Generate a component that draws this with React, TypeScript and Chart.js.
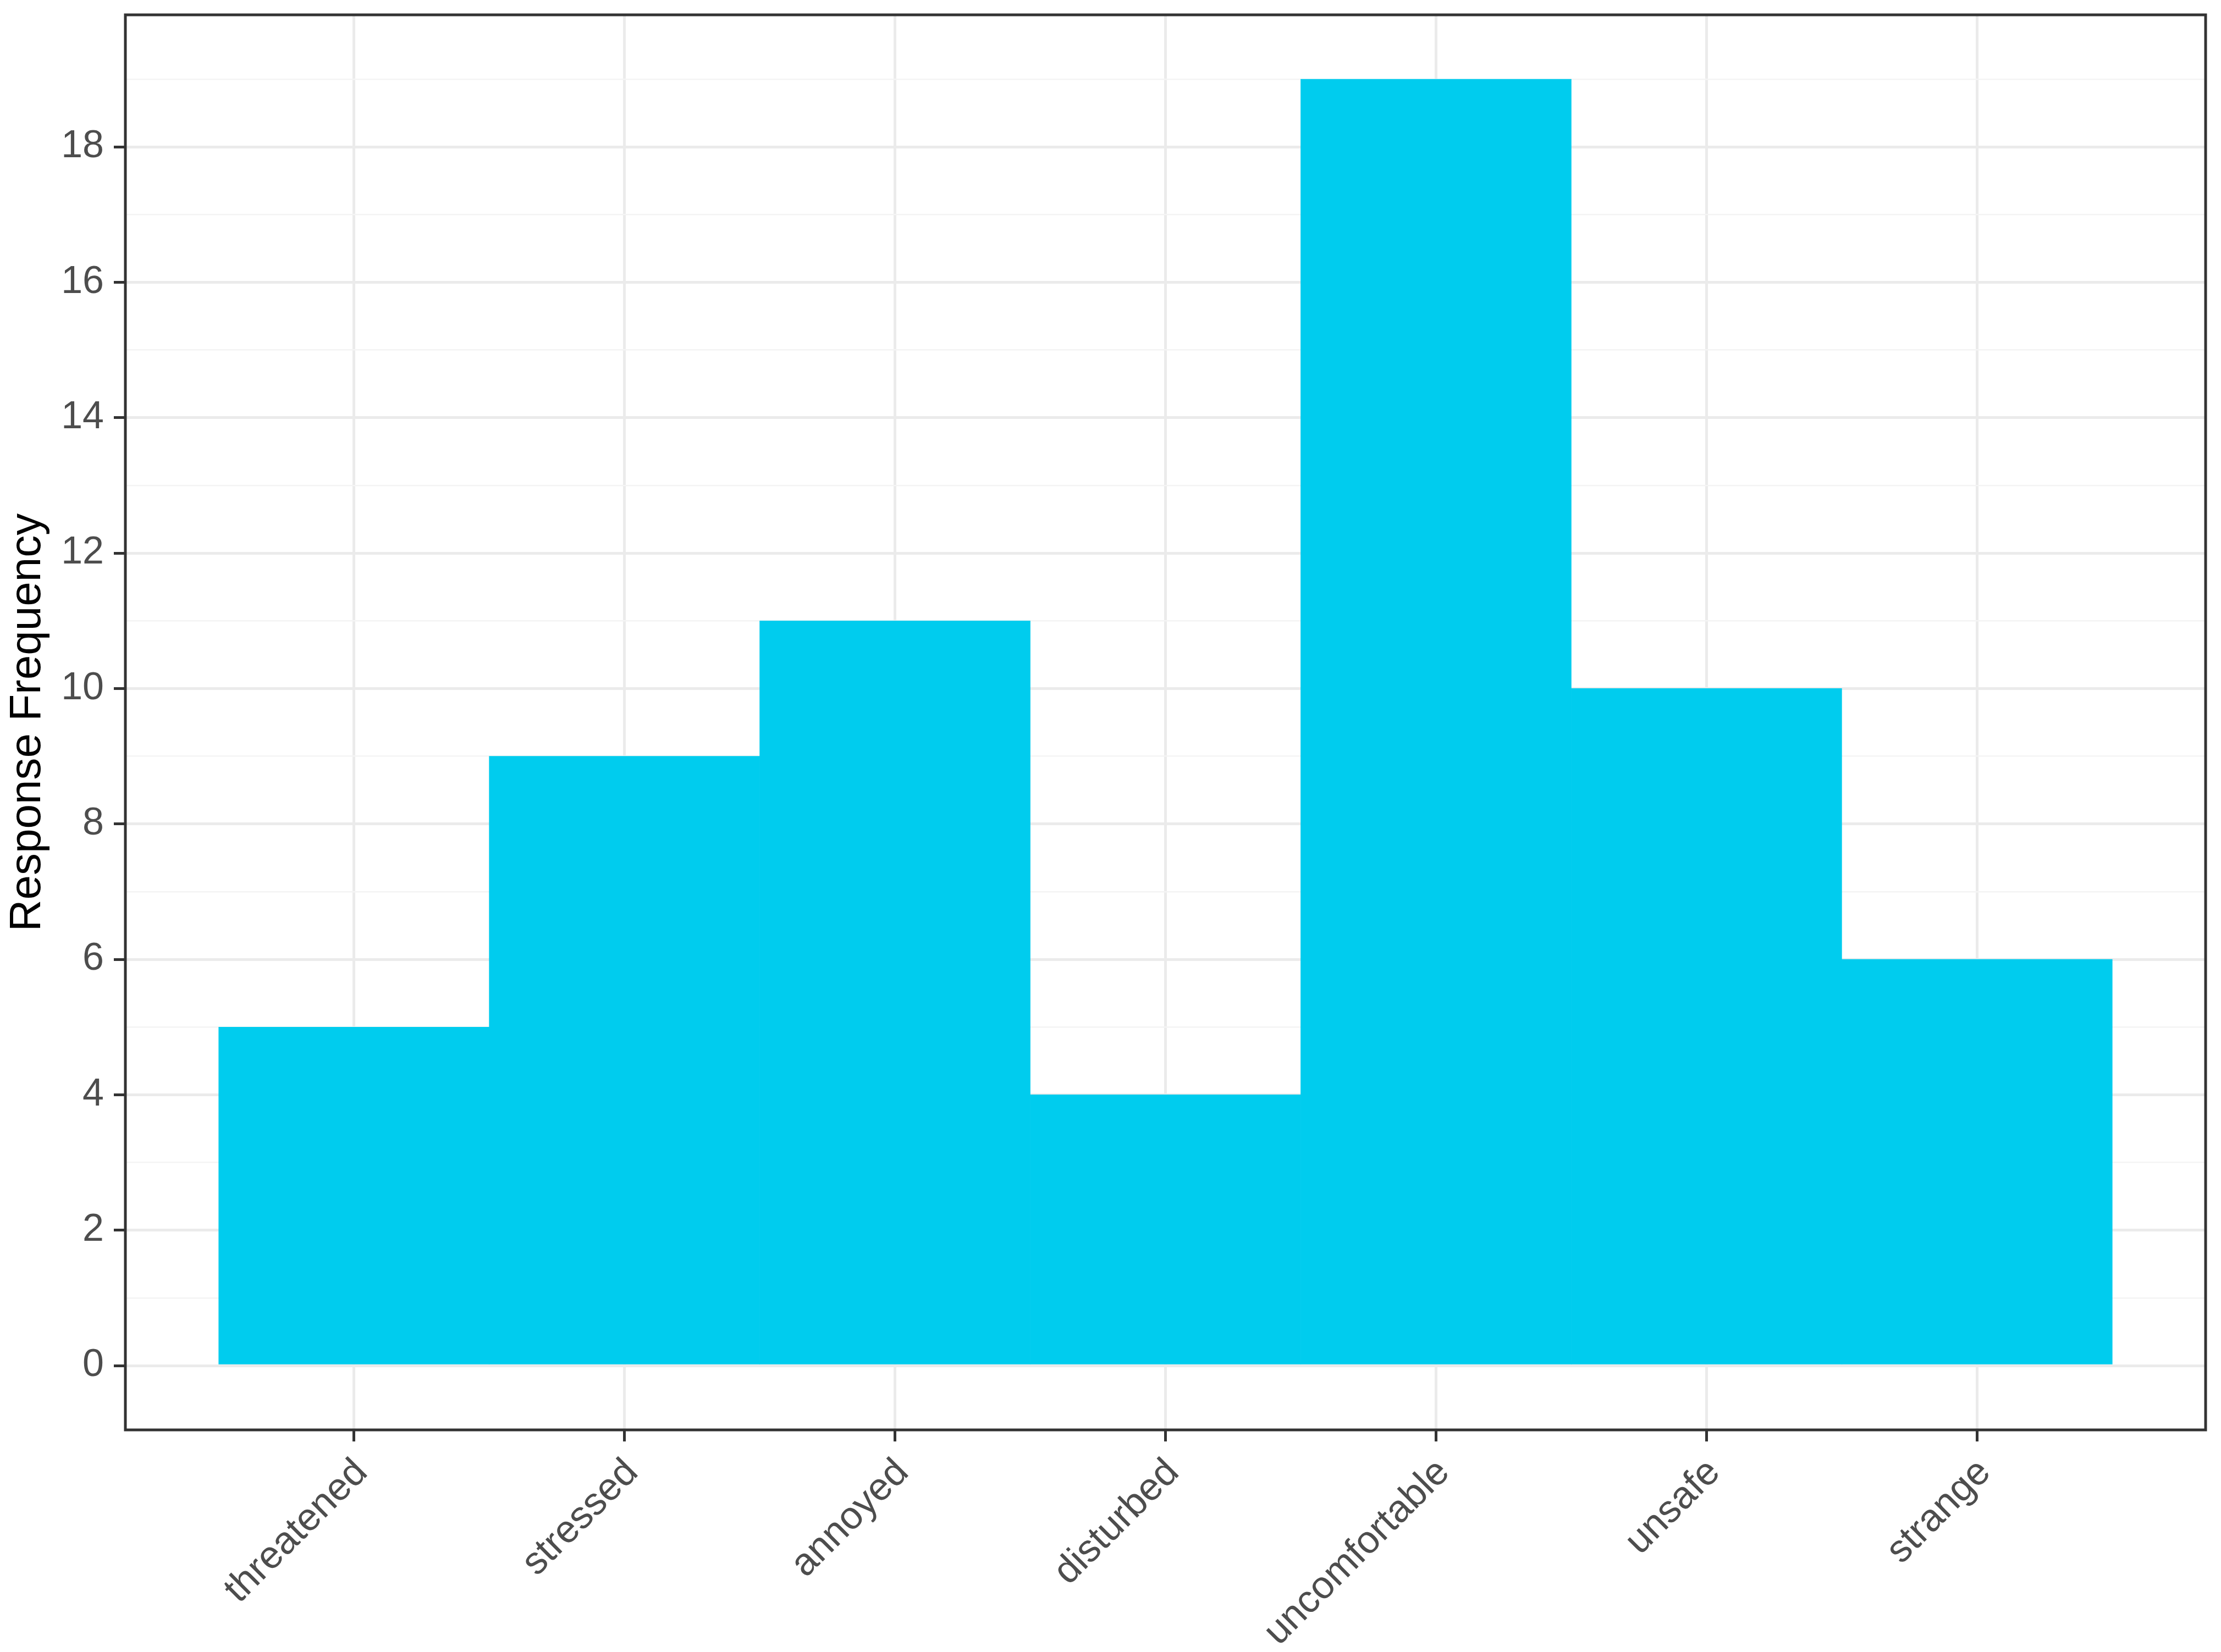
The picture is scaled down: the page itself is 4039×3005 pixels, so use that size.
import React, { useEffect, useRef } from "react";
import { Chart, registerables } from "chart.js";

Chart.register(...registerables);

const categories = ["threatened", "stressed", "annoyed", "disturbed", "uncomfortable", "unsafe", "strange"];
const frequencies = [5, 9, 11, 4, 19, 10, 6];
const categoryPositions = [1, 2, 3, 4, 5, 6, 7];
const yMajorTicks = [0, 2, 4, 6, 8, 10, 12, 14, 16, 18];
const yMinorTicks = [1, 3, 5, 7, 9, 11, 13, 15, 17, 19];
const yAxisTitle = "Response Frequency";

const FONT = "'Liberation Sans', Arial, Helvetica, sans-serif";

export default function App() {
  const ref = useRef<HTMLCanvasElement>(null);

  useEffect(() => {
    const isMajor = (v: number) => yMajorTicks.includes(v);
    const panelBorder = {
      id: "panelBorder",
      afterDatasetsDraw(chart: any) {
        const { ctx, chartArea } = chart;
        const { left, top, right, bottom } = chartArea;
        ctx.save();
        ctx.strokeStyle = "#333333";
        ctx.lineWidth = 5;
        ctx.strokeRect(left, top, right - left, bottom - top);
        ctx.restore();
      },
    };

    const chart = new Chart(ref.current as HTMLCanvasElement, {
      type: "bar",
      data: {
        datasets: [
          {
            data: categoryPositions.map((x, i) => ({ x, y: frequencies[i] })),
            backgroundColor: "#00CCEE",
            borderWidth: 0,
            barPercentage: 1,
            categoryPercentage: 1,
          },
        ],
      },
      options: {
        responsive: false,
        animation: false,
        devicePixelRatio: 1,
        layout: { padding: { left: 0, top: 27, right: 28, bottom: 0 } },
        plugins: { legend: { display: false }, tooltip: { enabled: false } },
        scales: {
          x: {
            type: "linear",
            min: 0.155,
            max: 7.845,
            offset: false,
            afterBuildTicks: (s: any) => {
              s.ticks = categoryPositions.map((v) => ({ value: v }));
            },
            afterFit: (s: any) => {
              s.height = 404;
              s.paddingLeft = 0;
              s.paddingRight = 0;
            },
            border: { display: false },
            grid: {
              offset: false,
              color: "#ebebeb",
              lineWidth: 5,
              tickLength: 21,
              tickColor: "#333333",
              tickWidth: 5,
            },
            ticks: {
              autoSkip: false,
              minRotation: 45,
              maxRotation: 45,
              padding: 16,
              labelOffset: 14,
              color: "#4d4d4d",
              font: { family: FONT, size: 70 },
              callback: (v: any) => categories[Number(v) - 1] ?? "",
            },
          },
          y: {
            type: "linear",
            min: -0.95,
            max: 19.95,
            afterBuildTicks: (s: any) => {
              s.ticks = [...yMajorTicks, ...yMinorTicks]
                .sort((a, b) => a - b)
                .map((v) => ({ value: v }));
            },
            afterFit: (s: any) => {
              s.width = 228;
              s.paddingTop = 0;
              s.paddingBottom = 0;
            },
            border: { display: false },
            grid: {
              color: (c: any) => (isMajor(c.tick?.value) ? "#ebebeb" : "#f4f4f4"),
              lineWidth: (c: any) => (isMajor(c.tick?.value) ? 5 : 2.5),
              tickLength: 21,
              tickColor: (c: any) => (isMajor(c.tick?.value) ? "#333333" : "rgba(0,0,0,0)"),
              tickWidth: 5,
            },
            ticks: {
              autoSkip: false,
              padding: 18,
              color: "#4d4d4d",
              font: { family: FONT, size: 70 },
              callback: (v: any) => (isMajor(Number(v)) ? String(v) : ""),
            },
            title: {
              display: true,
              text: yAxisTitle,
              color: "#000000",
              font: { family: FONT, size: 80 },
              padding: { top: 3, bottom: 0 },
            },
          },
        },
      },
      plugins: [panelBorder],
    } as any);

    return () => chart.destroy();
  }, []);

  return (
    <div style={{ position: "absolute", left: 0, top: 0, width: 4039, height: 3005, background: "#ffffff" }}>
      <canvas ref={ref} width={4039} height={3005} />
    </div>
  );
}
